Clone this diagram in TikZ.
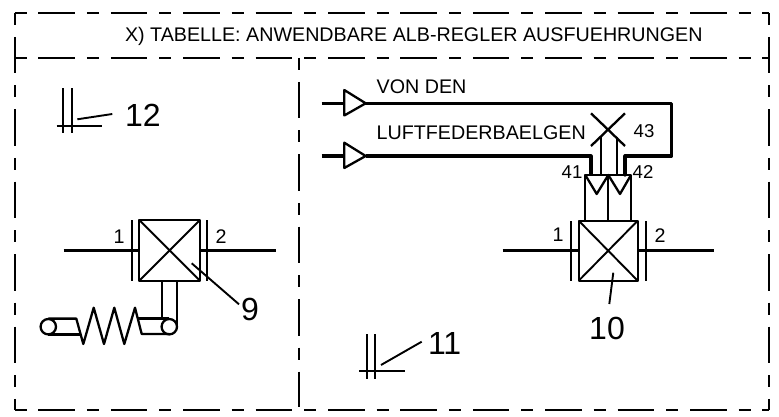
\documentclass[tikz,border=0pt]{standalone}
\usepackage{fontspec}
\setmainfont{Liberation Sans}
\newcommand{\fsA}{\fontsize{19.7}{22}\selectfont}
\newcommand{\fsB}{\fontsize{18.6}{20}\selectfont}
\newcommand{\fsC}{\fontsize{32}{34}\selectfont}
\tikzset{
  frameline/.style={line width=2pt,dash pattern=on 36.5pt off 12pt on 12pt off 11.9pt},
  thin line/.style={line width=1.9pt},
  mid line/.style={line width=2.3pt},
  thick line/.style={line width=3.2pt},
  txt/.style={inner sep=0pt,outer sep=0pt,text=black},
}
\begin{document}
\begin{tikzpicture}[x=1pt,y=-1pt]
\useasboundingbox (0,0) rectangle (779,417);
% frame
\begin{scope}[frameline,dash phase=48.5pt]
  \draw (14.5,13) -- (769,13);
  \draw (14.5,58) -- (769,58);
  \draw (14.5,410) -- (769,410);
  \draw (14.5,13) -- (14.5,410);
  \draw (769,13) -- (769,410);
  \draw (299,58) -- (299,407);
\end{scope}
\node[txt,anchor=base west,font=\fsA] (hdr) at (125,41.7) {X) TABELLE: ANWENDBARE ALB-REGLER AUSFUEHRUNGEN};
% symbol 12
\draw[thin line] (63,88.3) -- (63,133.3) (71.7,88.3) -- (71.7,133.3);
\draw[thin line] (56.7,126) -- (101.7,126);
\draw[thin line] (77.3,119.3) -- (112.3,114);
\node[txt,anchor=base west,font=\fsC] (n12) at (125,127) {12};
% left valve
\draw[mid line,line join=round] (139.3,220) rectangle (200,280.7);
\draw[thin line] (139.3,220) -- (200,280.7) (139.3,280.7) -- (200,220);
\draw[mid line] (131.7,220) -- (131.7,280.7) (207.3,220) -- (207.3,280.7);
\draw[thick line] (63.5,250.3) -- (139.3,250.3) (200,250.3) -- (275.6,250.3);
\draw[thin line] (191.7,263.3) -- (239,304.3);
\node[txt,font=\fsC] (n9) at (250,309) {9};
\node[txt,font=\fsA] (a1) at (119,237) {1};
\node[txt,font=\fsA] (a2) at (221,237) {2};
\draw[mid line] (162.3,280.7) -- (162.3,319) (176.7,280.7) -- (176.7,326.7);
\draw[mid line] (48.3,326.7) circle (7.7) (169.3,326.7) circle (7.7);
\draw[mid line,line join=round] (48.3,318.6) -- (76.3,318.6) -- (83.3,344) -- (93.7,307.7) -- (104,344) -- (114.3,307.7) -- (124.3,344) -- (135,307.7) -- (141.7,334) -- (169.3,334);
\draw[mid line] (48.3,334.5) -- (80,334.5) (138.3,318.6) -- (169.3,318.6);
% symbol 11
\draw[thin line] (366.7,334) -- (366.7,379.3) (375,334) -- (375,379.3);
\draw[thin line] (359.3,371.3) -- (405,371.3);
\draw[thin line] (381,365) -- (421.7,341.7);
\node[txt,anchor=base west,font=\fsC] (n11) at (428,354) {11};
% inputs
\draw[thick line,line join=round,line cap=round] (365.7,103.3) -- (671.7,103.3) -- (671.7,156) -- (625,156) -- (625,175);
\draw[thick line,line join=round] (365.7,156) -- (591,156) -- (591,175);
\draw[thick line] (321.7,103.3) -- (344.3,103.3) (321.7,156) -- (344.3,156);
\draw[mid line,line join=round] (344.3,90) -- (365.7,103.3) -- (344.3,115.5) -- cycle;
\draw[mid line,line join=round] (344.3,142.7) -- (365.7,156) -- (344.3,168) -- cycle;
\node[txt,anchor=base west,font=\fsA] (t1) at (376.7,94) {VON DEN};
\node[txt,anchor=base west,font=\fsA] (t2) at (376.7,140) {LUFTFEDERBAELGEN};
% X 43
\draw[mid line] (591,113.3) -- (625,146) (625,113.3) -- (591,146);
\draw[mid line] (600.7,137) -- (600.7,175) (616.7,137) -- (616.7,175);
\node[txt,font=\fsB] (n43) at (644,130.7) {43};
\node[txt,font=\fsB] (n41) at (572,172.3) {41};
\node[txt,font=\fsB] (n42) at (643,172.3) {42};
% actuator block
\draw[mid line,line join=round] (585.3,220.7) -- (585.3,175) -- (631,175) -- (631,220.7);
\draw[mid line] (608.3,175) -- (608.3,220.7);
\draw[mid line,line join=round] (585.3,175) -- (596.7,194) -- (608.3,175) -- (620,194) -- (631,175);
% right valve
\draw[mid line,line join=round] (578.7,220.7) rectangle (637.7,280.7);
\draw[thin line] (578.7,220.7) -- (637.7,280.7) (578.7,280.7) -- (637.7,220.7);
\draw[mid line] (570.7,221) -- (570.7,280.7) (645.7,221) -- (645.7,280.7);
\draw[thick line] (502.7,250.7) -- (578.7,250.7) (637.7,250.7) -- (714,250.7);
\draw[thin line] (613.3,272.7) -- (609.3,304);
\node[txt,font=\fsC] (n10) at (607,328) {10};
\node[txt,font=\fsA] (b1) at (558,235) {1};
\node[txt,font=\fsA] (b2) at (660,236) {2};
\end{tikzpicture}
\end{document}
